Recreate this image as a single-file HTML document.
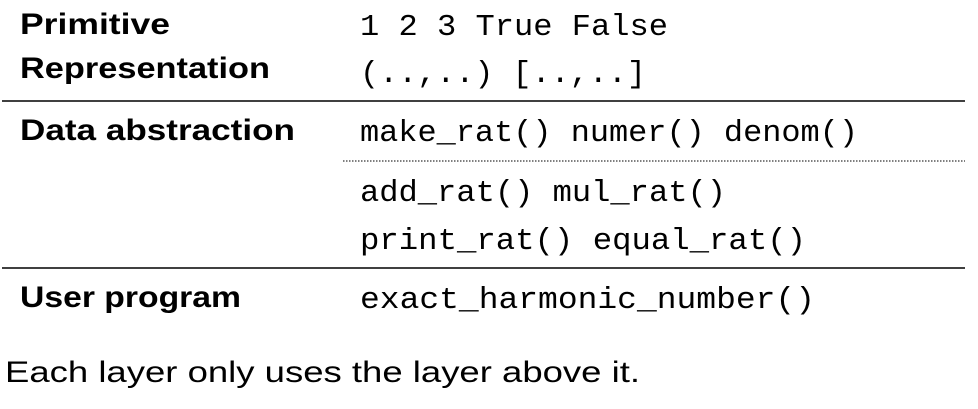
<!DOCTYPE html>
<html><head><style>html,body{margin:0;padding:0;background:#fff;}</style></head>
<body>
<svg width="978" height="404" xmlns="http://www.w3.org/2000/svg">
<g font-family="Liberation Sans, sans-serif" font-weight="bold" font-size="30" fill="#000">
<text x="20" y="34" textLength="150" lengthAdjust="spacingAndGlyphs">Primitive</text>
<text x="20" y="78" textLength="250" lengthAdjust="spacingAndGlyphs">Representation</text>
<text x="20" y="140" textLength="275" lengthAdjust="spacingAndGlyphs">Data abstraction</text>
<text x="20" y="307" textLength="221" lengthAdjust="spacingAndGlyphs">User program</text>
</g>
<g font-family="Liberation Mono, monospace" font-size="31" fill="#000">
<text x="360" y="35" textLength="308" lengthAdjust="spacingAndGlyphs">1 2 3 True False</text>
<text x="360" y="82" textLength="286" lengthAdjust="spacingAndGlyphs">(..,..) [..,..]</text>
<text x="360" y="141" textLength="498" lengthAdjust="spacingAndGlyphs">make_rat() numer() denom()</text>
<text x="360" y="201" textLength="366" lengthAdjust="spacingAndGlyphs">add_rat() mul_rat()</text>
<text x="360" y="249" textLength="446" lengthAdjust="spacingAndGlyphs">print_rat() equal_rat()</text>
<text x="360" y="308" textLength="455" lengthAdjust="spacingAndGlyphs">exact_harmonic_number()</text>
</g>
<line x1="2" y1="101" x2="965" y2="101" stroke="#000" stroke-width="1.5"/>
<line x1="343" y1="161" x2="965" y2="161" stroke="#000" stroke-width="1" stroke-dasharray="1.5,1.5"/>
<line x1="2" y1="268" x2="965" y2="268" stroke="#000" stroke-width="1.5"/>
<text x="5" y="382" font-family="Liberation Sans, sans-serif" font-size="30" fill="#000" textLength="635" lengthAdjust="spacingAndGlyphs">Each layer only uses the layer above it.</text>
</svg>
</body></html>
